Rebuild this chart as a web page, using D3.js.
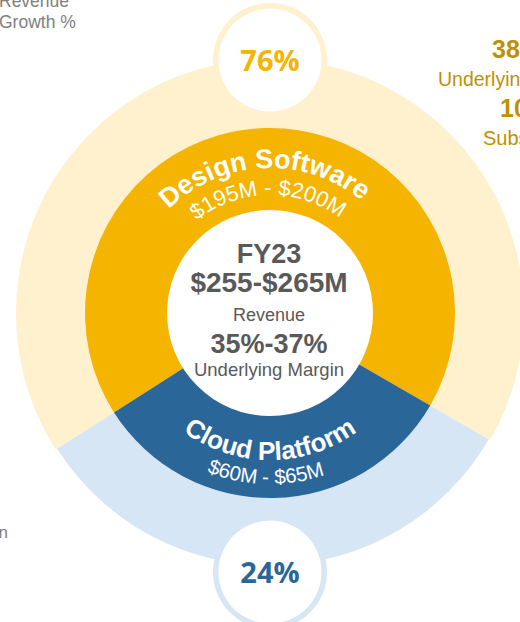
<!DOCTYPE html>
<html><head><meta charset="utf-8">
<script src="https://cdn.jsdelivr.net/npm/d3@7/dist/d3.min.js"></script>
<style>html,body{margin:0;padding:0;background:#fff;overflow:hidden}</style>
</head><body><svg id="c" width="520" height="622"></svg>
<script>
// ---- data ----
const segments = ["Design Software", "Cloud Platform"];
const shareLabels = ["76%", "24%"];
const revenueRanges = ["$195M - $200M", "$60M - $65M"];
const sweepDegrees = [242.5, 117.5];           // sweep of each segment as drawn
const centerLines = ["FY23", "$255-$265M", "Revenue", "35%-37%", "Underlying Margin"];
const leftNotes = ["Revenue", "Growth %"];
const leftBottomNote = ["Underlying Margin"];
const rightNotes = ["38%", "Underlying Margin", "10%", "Subscription"];

// ---- style ----
const strong = ["#F4B400", "#2B6699"];
const light = ["#FFF0CE", "#D7E6F4"];
const FONT = "'Liberation Sans', Arial, sans-serif";
const cx = 270, cy = 313;
const rWhite = 103, rRing = 185, rOuter = 254;
const rad = d => d * Math.PI / 180;

const svg = d3.select("#c");
const g = svg.append("g").attr("transform", `translate(${cx},${cy})`);

const pie = d3.pie().sort(null).value(d => d)
  .startAngle(rad(-122.5)).endAngle(rad(237.5));
const arcsData = pie(sweepDegrees);

// outer light ring
g.selectAll("path.outer").data(arcsData).join("path")
  .attr("class", "outer")
  .attr("d", (d, i) => d3.arc().innerRadius(0).outerRadius(i === 0 ? rOuter : rOuter - 1.5)(d))
  .attr("fill", (d, i) => light[i]);

// inner strong ring
const ringArc = d3.arc().innerRadius(rWhite - 2).outerRadius(rRing);
g.selectAll("path.ring").data(arcsData).join("path")
  .attr("class", "ring")
  .attr("d", ringArc)
  .attr("fill", (d, i) => strong[i]);

// white centre
g.append("circle").attr("r", rWhite).attr("fill", "#fff");

// bubbles
const bubbleAngles = [0, Math.PI];
const bubbleDist = [253, 259];
shareLabels.forEach((lab, i) => {
  const bx = Math.sin(bubbleAngles[i]) * bubbleDist[i];
  const by = -Math.cos(bubbleAngles[i]) * bubbleDist[i];
  g.append("circle").attr("cx", bx).attr("cy", by).attr("r", 57).attr("fill", light[i]);
  g.append("circle").attr("cx", bx).attr("cy", by).attr("r", 51.5).attr("fill", "#fff");
  g.append("text").attr("x", bx).attr("y", by + 11)
    .attr("text-anchor", "middle")
    .attr("font-family", "'Open Sans', Lato, sans-serif").attr("font-weight", 700)
    .attr("font-size", 29).attr("fill", strong[i]).text(lab);
});

// arc text helper
const defs = svg.append("defs");
function arcPath(id, r, centerDeg, halfDeg, bottom) {
  const p = d3.path();
  if (!bottom) {
    p.arc(cx, cy, r, rad(centerDeg - halfDeg - 90), rad(centerDeg + halfDeg - 90), false);
  } else {
    p.arc(cx, cy, r, rad(180 + halfDeg - centerDeg - 90), rad(180 - halfDeg - centerDeg - 90), true);
  }
  defs.append("path").attr("id", id).attr("d", p.toString());
}
function arcText(id, str, size, weight) {
  svg.append("text").attr("font-family", FONT).attr("font-size", size)
    .attr("font-weight", weight).attr("fill", "#fff")
    .append("textPath").attr("href", "#" + id).attr("startOffset", "50%")
    .attr("text-anchor", "middle").text(str);
}
arcPath("t0", 145, -2.5, 85, false);
arcPath("t1", 118, -1, 85, false);
arcPath("b0", 147, 0, 85, true);
arcPath("b1", 171, -1.5, 85, true);
arcText("t0", segments[0], 27, 700);
arcText("t1", revenueRanges[0], 22, 400);
arcText("b0", segments[1], 26, 700);
arcText("b1", revenueRanges[1], 20.5, 400);

// centre text
const centerStyle = [
  {y: 263, s: 27, w: 700}, {y: 292, s: 28, w: 700}, {y: 321, s: 18, w: 400},
  {y: 353, s: 27, w: 700}, {y: 376, s: 18.5, w: 400}
];
svg.selectAll("text.center").data(centerLines).join("text")
  .attr("class", "center")
  .attr("x", cx - 1).attr("y", (d, i) => centerStyle[i].y)
  .attr("text-anchor", "middle").attr("font-family", FONT)
  .attr("font-size", (d, i) => centerStyle[i].s)
  .attr("font-weight", (d, i) => centerStyle[i].w)
  .attr("fill", "#595959").text(d => d);

// side notes
svg.selectAll("text.left").data(leftNotes).join("text")
  .attr("class", "left").attr("x", -1).attr("y", (d, i) => 7 + i * 21)
  .attr("font-family", FONT).attr("font-size", 17.5).attr("fill", "#808080").text(d => d);
svg.selectAll("text.leftb").data(leftBottomNote).join("text")
  .attr("class", "leftb").attr("x", 8).attr("y", 538).attr("text-anchor", "end")
  .attr("font-family", FONT).attr("font-size", 17).attr("fill", "#808080").text(d => d);

const rightStyle = [
  {x: 492, y: 58, s: 25, w: 700}, {x: 438, y: 86, s: 19.5, w: 400},
  {x: 500, y: 117, s: 25, w: 700}, {x: 483, y: 145, s: 20, w: 400}
];
svg.selectAll("text.right").data(rightNotes).join("text")
  .attr("class", "right")
  .attr("x", (d, i) => rightStyle[i].x).attr("y", (d, i) => rightStyle[i].y)
  .attr("font-family", FONT).attr("font-size", (d, i) => rightStyle[i].s)
  .attr("font-weight", (d, i) => rightStyle[i].w)
  .attr("fill", "#BF9000").text(d => d);
</script></body></html>
